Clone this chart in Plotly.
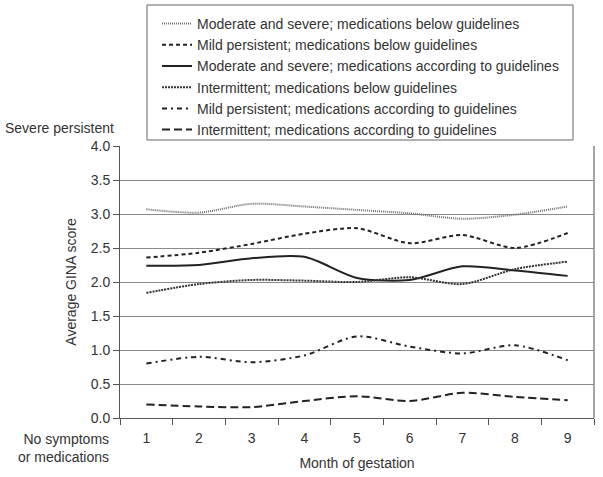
import plotly.graph_objects as go

months = ["1", "2", "3", "4", "5", "6", "7", "8", "9"]
series_names = [
    "Moderate and severe; medications below guidelines",
    "Mild persistent; medications below guidelines",
    "Moderate and severe; medications according to guidelines",
    "Intermittent; medications below guidelines",
    "Mild persistent; medications according to guidelines",
    "Intermittent; medications according to guidelines",
]
mod_sev_below = [3.07, 3.02, 3.15, 3.11, 3.06, 3.01, 2.93, 2.99, 3.11]
mild_below = [2.36, 2.43, 2.56, 2.71, 2.79, 2.57, 2.69, 2.50, 2.72]
mod_sev_accord = [2.24, 2.25, 2.35, 2.37, 2.06, 2.03, 2.23, 2.17, 2.09]
intermittent_below = [1.84, 1.97, 2.03, 2.02, 2.00, 2.07, 1.97, 2.19, 2.30]
mild_accord = [0.80, 0.90, 0.82, 0.92, 1.20, 1.05, 0.95, 1.07, 0.85]
intermittent_accord = [0.20, 0.17, 0.16, 0.25, 0.32, 0.25, 0.37, 0.31, 0.26]
y_ticks = [0.0, 0.5, 1.0, 1.5, 2.0, 2.5, 3.0, 3.5, 4.0]

values = [mod_sev_below, mild_below, mod_sev_accord, intermittent_below, mild_accord, intermittent_accord]
styles = [
    dict(color="#707070", width=2, dash="1px,1px"),
    dict(color="#222222", width=2, dash="4px,3px"),
    dict(color="#222222", width=2, dash="solid"),
    dict(color="#333333", width=2, dash="2px,1px"),
    dict(color="#222222", width=2, dash="5px,4px,2px,4px"),
    dict(color="#222222", width=2, dash="8px,4px"),
]

fig = go.Figure()
for name, vals, st in zip(series_names, values, styles):
    fig.add_trace(go.Scatter(
        x=months, y=vals, name=name, mode="lines",
        line=dict(shape="spline", smoothing=0.8, **st),
    ))

font = dict(family="Liberation Sans, Arial, sans-serif", size=14, color="#333333")

# plot area in pixels: x 120..594, y 146..418
def px(x):
    return (x - 120) / 474

def py(y):
    return (418 - y) / 272

fig.update_layout(
    width=603, height=477,
    margin=dict(l=120, r=9, t=146, b=59, autoexpand=False),
    paper_bgcolor="white", plot_bgcolor="white",
    font=font,
    showlegend=True,
    legend=dict(
        x=px(157), y=py(8),
        xanchor="left", yanchor="top",
        xref="paper", yref="paper",
        borderwidth=0,
        bgcolor="rgba(0,0,0,0)",
        font=font,
        itemwidth=30,
        tracegroupgap=0,
    ),
    xaxis=dict(
        type="category",
        categoryorder="array", categoryarray=months,
        range=[-0.5, 8.5],
        showgrid=False,
        showline=True, linecolor="#555555", linewidth=1, mirror=False,
        ticks="outside", tickson="boundaries", ticklen=6, tickcolor="#555555",
        ticklabelstandoff=7,
        tickfont=font,
        title=dict(text="Month of gestation", font=font, standoff=13),
        zeroline=False,
        automargin=False,
    ),
    yaxis=dict(
        range=[0, 4.0],
        tickvals=y_ticks,
        ticktext=[f"{v:.1f}" for v in y_ticks],
        showgrid=True, gridcolor="#8a8a8a", gridwidth=1,
        showline=True, linecolor="#555555", linewidth=1,
        ticks="outside", ticklen=6, tickcolor="#555555",
        tickfont=font,
        title=dict(text="Average GINA score", font=font, standoff=10),
        zeroline=False,
        automargin=False,
    ),
    shapes=[
        dict(type="line", xref="paper", yref="paper", x0=1, x1=1, y0=0, y1=1,
             line=dict(color="#8a8a8a", width=1.5)),
        dict(type="rect", xref="paper", yref="paper",
             x0=px(147), x1=px(573), y0=py(140), y1=py(5),
             line=dict(color="#666666", width=1), fillcolor="rgba(0,0,0,0)",
             layer="below"),
    ],
    annotations=[
        dict(text="Severe persistent", xref="paper", yref="paper",
             x=px(3), y=py(128),
             xanchor="left", yanchor="middle", showarrow=False, font=font),
        dict(text="No symptoms<br>or medications", xref="paper", yref="paper",
             x=px(111), y=py(448),
             xanchor="right", yanchor="middle", align="right", showarrow=False, font=font),
    ],
)

fig.write_html(
    "out.html",
    config={"displayModeBar": False},
    post_script="document.body.style.margin='0px';document.body.style.overflow='hidden';",
)
